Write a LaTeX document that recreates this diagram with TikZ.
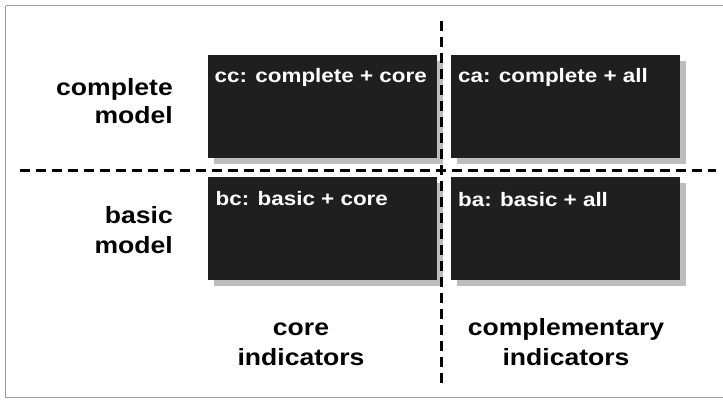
\documentclass[tikz,border=0pt]{standalone}
\usepackage{fontspec}
\newfontfamily\axisfont{Liberation Sans}[FakeStretch=1.13]
\newfontfamily\cellfont{Liberation Sans}[FakeStretch=1.15]
\usetikzlibrary{calc}
\definecolor{cellfill}{HTML}{1F1F1F}
\definecolor{cellshadow}{HTML}{BDBDBD}
\definecolor{framegray}{HTML}{9A9A9A}
\begin{document}
\begin{tikzpicture}[x=1pt,y=-1pt,
  cellbox/.style={draw=none,fill=cellfill,inner sep=0pt,anchor=north west,
    minimum width=229pt,minimum height=103pt},
  shadowbox/.style={fill=cellshadow,draw=none},
  celltext/.style={text=white,font=\cellfont\bfseries\fontsize{19.5}{22}\selectfont,
    inner sep=0pt,anchor=base west},
  axistext/.style={text=black,font=\axisfont\bfseries\fontsize{23.5}{28}\selectfont,
    inner sep=0pt},
  divider/.style={line width=3pt,dash pattern=on 10pt off 6pt}]
\useasboundingbox (0,0) rectangle (723,400);
\fill[white] (0,0) rectangle (723,400);
% outer frame (runs past the right edge)
\draw[framegray,line width=1.6pt] (5.5,5.5) -- (740,5.5);
\draw[framegray,line width=1.6pt] (5.5,5.5) -- (5.5,397.5) -- (740,397.5);

% drop shadows of the four cells
\fill[shadowbox] (214,61) rectangle (443,164);
\fill[shadowbox] (457,61) rectangle (686,164);
\fill[shadowbox] (214,183) rectangle (443,286);
\fill[shadowbox] (457,183) rectangle (686,286);

% the four cells
\node[cellbox] (cc) at (208,55) {};
\node[cellbox] (ca) at (451,55) {};
\node[cellbox] (bc) at (208,177) {};
\node[cellbox] (ba) at (451,177) {};

\node[celltext] (cct) at ($(cc.north west)+(6.5,27.5)$) {cc: complete + core};
\node[celltext] (cat) at ($(ca.north west)+(7,27.5)$) {ca: complete + all};
\node[celltext] (bct) at ($(bc.north west)+(7.5,28.5)$) {bc: basic + core};
\node[celltext] (bat) at ($(ba.north west)+(7,29)$) {ba: basic + all};

% dividing lines
\coordinate (hl) at (20,170);
\coordinate (hr) at (716,170);
\coordinate (vt) at (441,21);
\coordinate (vb) at (441,386);
\draw[divider] (hl) -- (hr);
\draw[divider] (vt) -- (vb);

% row labels
\node[axistext,anchor=base east] (cm1) at (173,95) {complete};
\node[axistext,anchor=base east] (cm2) at (173,123.5) {model};
\node[axistext,anchor=base east] (bm1) at (173,223) {basic};
\node[axistext,anchor=base east] (bm2) at (173,253) {model};

% column labels
\node[axistext,anchor=base] (ci1) at (301,335) {core};
\node[axistext,anchor=base] (ci2) at (301,365) {indicators};
\node[axistext,anchor=base] (xi1) at (566,335) {complementary};
\node[axistext,anchor=base] (xi2) at (566,365) {indicators};
\end{tikzpicture}
\end{document}
